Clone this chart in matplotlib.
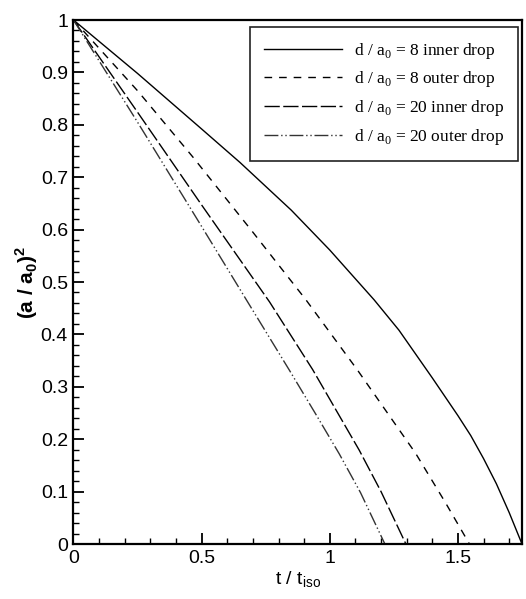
import matplotlib
matplotlib.use("Agg")
import matplotlib.pyplot as plt
from matplotlib.ticker import MultipleLocator, FuncFormatter

plt.rcParams['font.family'] = ['Liberation Sans', 'DejaVu Sans']
plt.rcParams['mathtext.fontset'] = 'custom'
plt.rcParams['mathtext.rm'] = 'Liberation Serif'
plt.rcParams['mathtext.sf'] = 'Liberation Sans'
plt.rcParams['mathtext.bf'] = 'Liberation Sans:bold'

# values
t_in8 = [0.0, 0.25, 0.5, 0.65, 0.85, 1.0, 1.173, 1.27, 1.4, 1.5, 1.55, 1.6, 1.65, 1.7, 1.75]
r_in8 = [1.0, 0.898, 0.792, 0.728, 0.637, 0.561, 0.466, 0.408, 0.317, 0.245, 0.207, 0.163, 0.115, 0.06, 0.0]

t_out8 = [0.0, 0.25, 0.465, 0.7, 0.907, 1.108, 1.335, 1.45, 1.545]
r_out8 = [1.0, 0.865, 0.739, 0.595, 0.466, 0.332, 0.173, 0.08, 0.0]

t_in20 = [0.0, 0.25, 0.5, 0.765, 0.933, 1.115, 1.2, 1.297]
r_in20 = [1.0, 0.824, 0.647, 0.462, 0.333, 0.179, 0.1, 0.0]

t_out20 = [0.0, 0.25, 0.5, 0.687, 0.842, 0.95, 1.037, 1.12, 1.215]
r_out20 = [1.0, 0.805, 0.606, 0.456, 0.332, 0.244, 0.172, 0.098, 0.0]

labels = ["d / a$_0$ = 8 inner drop", "d / a$_0$ = 8 outer drop",
          "d / a$_0$ = 20 inner drop", "d / a$_0$ = 20 outer drop"]

fig = plt.figure(figsize=(5.26, 5.99), dpi=100)
ax = fig.add_axes([0.1397, 0.0918, 0.8527, 0.8748])

lw = 1.0
ax.plot(t_in8, r_in8, color='black', lw=lw, ls='-', label=labels[0])
ax.plot(t_out8, r_out8, color='black', lw=lw, ls=(0, (5.5, 5)), label=labels[1])
ax.plot(t_in20, r_in20, color='black', lw=lw, ls=(0, (11, 2.5)), label=labels[2])
ax.plot(t_out20, r_out20, color='#333333', lw=lw, ls=(0, (10, 2, 1, 2, 1, 2)), label=labels[3])

ax.set_xlim(0, 1.75)
ax.set_ylim(0, 1)
ax.xaxis.set_major_locator(MultipleLocator(0.5))
ax.xaxis.set_minor_locator(MultipleLocator(0.1))
ax.yaxis.set_major_locator(MultipleLocator(0.1))
ax.yaxis.set_minor_locator(MultipleLocator(0.02))
ax.xaxis.set_major_formatter(FuncFormatter(lambda v, p: f"{v:g}"))
ax.yaxis.set_major_formatter(FuncFormatter(lambda v, p: f"{v:g}"))

ax.tick_params(which='both', direction='in', top=False, right=False, labelsize=14, width=1.3)
ax.tick_params(which='major', length=8, pad=4)
ax.tick_params(which='minor', length=4, width=1.0)
for s in ax.spines.values():
    s.set_linewidth(1.6)

ax.set_xlabel("t / t$_{\\mathsf{iso}}$", fontsize=14, labelpad=2)
ax.set_ylabel("(a / a$_{\\mathbf{0}}$)$^{\\mathbf{2}}$", fontsize=15, fontweight='bold', labelpad=0.5)

leg = ax.legend(loc='upper right', bbox_to_anchor=(0.991, 0.987), borderaxespad=0,
                fancybox=False, edgecolor='#222222', framealpha=1,
                prop={'family': 'Liberation Serif', 'size': 12.5},
                handlelength=4.5, handletextpad=0.7, labelspacing=0.5,
                borderpad=0.8)
leg.get_frame().set_linewidth(1.2)

fig.savefig("out.png", dpi=100)
